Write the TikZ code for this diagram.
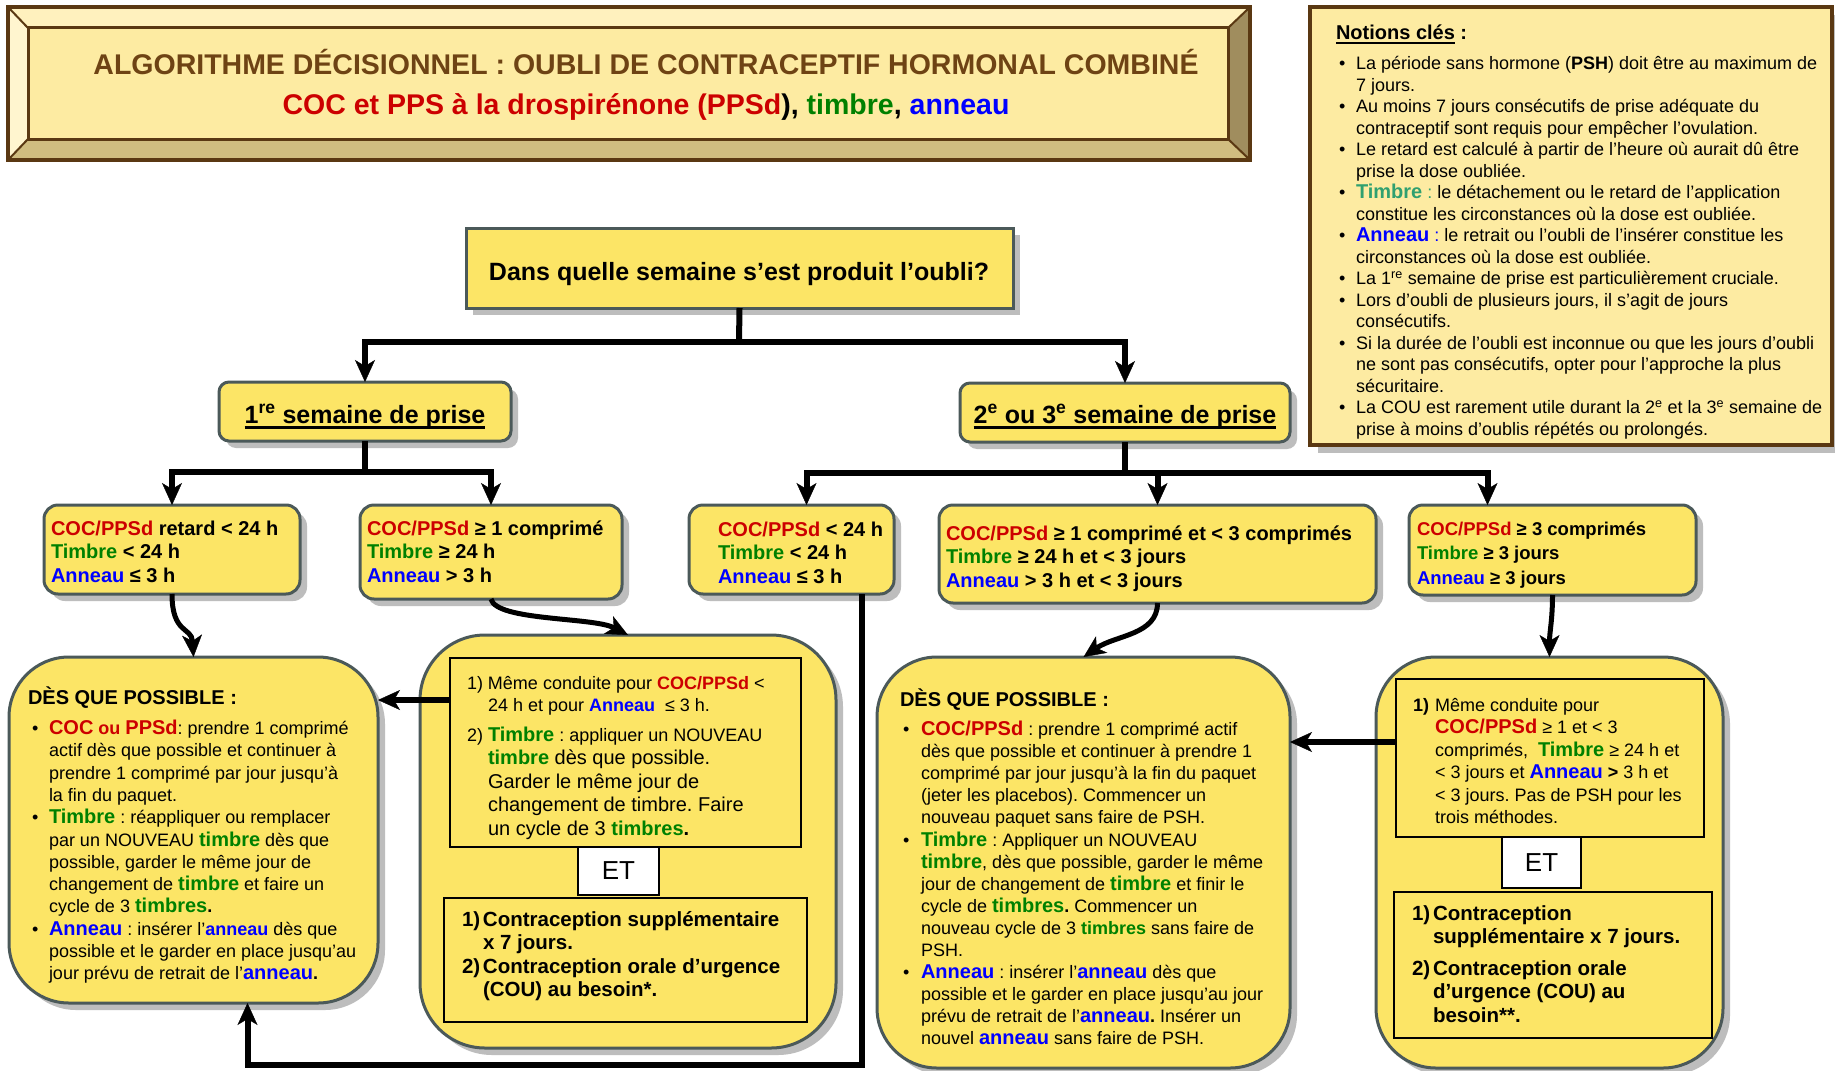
\documentclass[tikz,border=0pt]{standalone}
\usepackage{fontspec}
\setmainfont{Liberation Sans}
\usetikzlibrary{arrows.meta,shadows}
\frenchspacing

\definecolor{cred}{HTML}{CC0000}
\definecolor{cgreen}{HTML}{008000}
\definecolor{cblue}{HTML}{0000FF}
\definecolor{cteal}{HTML}{30A070}
\definecolor{boxfill}{HTML}{FCE566}
\definecolor{boxline}{HTML}{4B5959}
\definecolor{shade}{HTML}{BDBDBD}
\definecolor{pale}{HTML}{FDEBA2}
\definecolor{brownline}{HTML}{5A3812}
\definecolor{titlebrown}{HTML}{6E4314}
\definecolor{bevtop}{HTML}{FFF1BE}
\definecolor{bevleft}{HTML}{FFF5CF}
\definecolor{bevbot}{HTML}{D0BD80}
\definecolor{bevright}{HTML}{A08D5E}

\newcommand\fsz[2]{\fontsize{#1}{#2}\selectfont}
\newcommand\kw[3]{{\fsz{#1}{22}\bfseries\color{#2}#3}}
\newcommand\kR[1]{\kw{20}{cred}{#1}}
\newcommand\kG[1]{\kw{20}{cgreen}{#1}}
\newcommand\kB[1]{\kw{20}{cblue}{#1}}
\newcommand\sR[1]{{\bfseries\color{cred}#1}}
\newcommand\sG[1]{{\bfseries\color{cgreen}#1}}
\newcommand\sB[1]{{\bfseries\color{cblue}#1}}
\newcommand\toprl[1]{\rule{0pt}{#1pt}}
\newlength\bw
\newcommand\bu{\makebox[\bw][l]{•}}
\newcommand\ind{\hspace*{\bw}}
\newcommand\nb[1]{\makebox[\bw][l]{#1}}
\newcommand\ulthick[1]{\setbox0=\hbox{#1}\rlap{\rule[-5.5pt]{\wd0}{2.8pt}}\box0\relax}
\newcommand\ulthin[1]{\setbox0=\hbox{#1}\rlap{\rule[-3.8pt]{\wd0}{1.6pt}}\box0\relax}

\begin{document}
\begin{tikzpicture}[x=1pt,y=-1pt,
  every node/.style={inner sep=0pt, outer sep=0pt},
  shad/.style={general shadow={fill=shade, shadow xshift=7pt, shadow yshift=-7pt}},
  rbox/.style={draw=boxline, line width=3pt, fill=boxfill, rounded corners=#1, shad, anchor=north west},
  rbox/.default=12pt,
  inbox/.style={draw=black, line width=1.8pt, fill=boxfill, anchor=north west},
  etbox/.style={draw=black, line width=1.5pt, fill=white, anchor=north west, font=\fsz{26}{30}},
  txt/.style={anchor=north west, align=left},
  tree/.style={line width=6pt},
  curvy/.style={line width=5pt},
  arr/.style={-{Stealth[length=22pt,width=20pt,inset=6pt,line width=0.4pt]}},
]
\useasboundingbox (0,0) rectangle (1835,1070);
\fill[white] (0,0) rectangle (1835,1070);

% ---------- Title frame ----------
\fill[bevtop] (8,7) -- (1250,7) -- (1228,28) -- (28,28) -- cycle;
\fill[bevleft] (8,7) -- (28,28) -- (28,139) -- (8,160) -- cycle;
\fill[bevbot] (8,160) -- (28,139) -- (1228,139) -- (1250,160) -- cycle;
\fill[bevright] (1250,7) -- (1250,160) -- (1228,139) -- (1228,28) -- cycle;
\fill[pale] (28,28) rectangle (1228,139);
\draw[brownline, line width=3.5pt] (8,7) rectangle (1250,160);
\draw[brownline, line width=3pt] (28,28) rectangle (1228,139);
\draw[brownline, line width=2pt] (8,7) -- (28,28) (1250,7) -- (1228,28) (8,160) -- (28,139) (1250,160) -- (1228,139);
\node[anchor=base, font=\fsz{28.5}{32}\bfseries, text=titlebrown] (title1) at (646,75)
  {ALGORITHME DÉCISIONNEL : OUBLI DE CONTRACEPTIF HORMONAL COMBINÉ};
\node[anchor=base, font=\fsz{28.5}{32}\bfseries] (title2) at (646,114)
  {{\color{cred}COC et PPS à la drospirénone (PPSd}), {\color{cgreen}timbre}, {\color{cblue}anneau}};

% ---------- Notions clés ----------
\node[draw=brownline, line width=4pt, fill=pale, anchor=north west, minimum width=522pt, minimum height=438pt,
  general shadow={fill=shade, shadow xshift=8pt, shadow yshift=-8pt}] (notions) at (1310,7) {};
\node[anchor=base west, font=\fsz{20}{24}\bfseries] (notions-title) at (1336,40) {\ulthin{Notions clés}\ :};
\node[txt, font={\fsz{18}{21.5}\setlength\bw{17pt}}] (notions-text) at (1339,49.8) {%
\toprl{20}\bu La période sans hormone (\textbf{PSH}) doit être au maximum de\\
\ind 7 jours.\\
\bu Au moins 7 jours consécutifs de prise adéquate du\\
\ind contraceptif sont requis pour empêcher l’ovulation.\\
\bu Le retard est calculé à partir de l’heure où aurait dû être\\
\ind prise la dose oubliée.\\
\bu {\fsz{20}{22}\bfseries\color{cteal}Timbre}{\color{cteal}\ :} le détachement ou le retard de l’application\\
\ind constitue les circonstances où la dose est oubliée.\\
\bu \kB{Anneau}{\color{cblue}\ :} le retrait ou l’oubli de l’insérer constitue les\\
\ind circonstances où la dose est oubliée.\\
\bu La 1\textsuperscript{re} semaine de prise est particulièrement cruciale.\\
\bu Lors d’oubli de plusieurs jours, il s’agit de jours\\
\ind consécutifs.\\
\bu Si la durée de l’oubli est inconnue ou que les jours d’oubli\\
\ind ne sont pas consécutifs, opter pour l’approche la plus\\
\ind sécuritaire.\\
\bu La COU est rarement utile durant la 2\textsuperscript{e} et la 3\textsuperscript{e} semaine de\\
\ind prise à moins d’oublis répétés ou prolongés.};

% ---------- Tree boxes ----------
\node[draw=boxline, line width=3pt, fill=boxfill, shad, anchor=north west, minimum width=547pt, minimum height=80pt] (root) at (466,228) {};
\node[anchor=base, font=\fsz{25}{30}\bfseries] (root-text) at (739,280) {Dans quelle semaine s’est produit l’oubli?};

\node[rbox=10pt, minimum width=292pt, minimum height=59pt] (w1) at (219,382) {};
\node[anchor=base, font=\fsz{25}{30}\bfseries] (w1-text) at (365,423) {\ulthick{1\textsuperscript{re} semaine de prise}};
\node[rbox=10pt, minimum width=330pt, minimum height=59pt] (w2) at (960,383) {};
\node[anchor=base, font=\fsz{25}{30}\bfseries] (w2-text) at (1125,423) {\ulthick{2\textsuperscript{e} ou 3\textsuperscript{e} semaine de prise}};

\node[rbox=14pt, minimum width=256pt, minimum height=89pt] (b1) at (44,505) {};
\node[rbox=14pt, minimum width=262pt, minimum height=94pt] (b2) at (360,505) {};
\node[rbox=14pt, minimum width=205pt, minimum height=89pt] (b3) at (689,505) {};
\node[rbox=14pt, minimum width=437pt, minimum height=98pt] (b4) at (939,505) {};
\node[rbox=14pt, minimum width=287pt, minimum height=90pt] (b5) at (1409,505) {};

\node[txt, font=\fsz{20}{23.5}\bfseries] (b1-text) at (51,515) {%
\toprl{20}\sR{COC/PPSd} retard < 24 h\\ \sG{Timbre} < 24 h\\ \sB{Anneau} ≤ 3 h};
\node[txt, font=\fsz{20}{23.5}\bfseries] (b2-text) at (367,515) {%
\toprl{20}\sR{COC/PPSd} ≥ 1 comprimé\\ \sG{Timbre} ≥ 24 h\\ \sB{Anneau} > 3 h};
\node[txt, font=\fsz{20}{23.5}\bfseries] (b3-text) at (718,516) {%
\toprl{20}\sR{COC/PPSd} < 24 h\\ \sG{Timbre} < 24 h\\ \sB{Anneau} ≤ 3 h};
\node[txt, font=\fsz{20}{23.5}\bfseries] (b4-text) at (946,520) {%
\toprl{20}\sR{COC/PPSd} ≥ 1 comprimé et < 3 comprimés\\ \sG{Timbre} ≥ 24 h et < 3 jours\\ \sB{Anneau} > 3 h et < 3 jours};
\node[txt, font=\fsz{18.5}{24.5}\bfseries] (b5-text) at (1417,515) {%
\toprl{20}\sR{COC/PPSd} ≥ 3 comprimés\\ \sG{Timbre} ≥ 3 jours\\ \sB{Anneau} ≥ 3 jours};

% ---------- Big boxes ----------
\node[rbox=60pt, minimum width=369pt, minimum height=346pt] (d1) at (9,657) {};
\node[rbox=65pt, minimum width=416pt, minimum height=413pt] (c1) at (420,635) {};
\node[rbox=60pt, minimum width=413pt, minimum height=411pt] (d2) at (877,657) {};
\node[rbox=60pt, minimum width=347pt, minimum height=411pt] (c2) at (1376,657) {};

\node[inbox, minimum width=351pt, minimum height=189pt] (c1in1) at (450,658) {};
\node[etbox, minimum width=81pt, minimum height=48pt] (c1et) at (578,847) {ET};
\node[inbox, minimum width=363pt, minimum height=124pt] (c1in2) at (444,898) {};
\node[inbox, minimum width=308pt, minimum height=158pt] (c2in1) at (1396,679) {};
\node[etbox, minimum width=79pt, minimum height=51pt] (c2et) at (1502,837) {ET};
\node[inbox, minimum width=318pt, minimum height=146pt] (c2in2) at (1394,892) {};

% D1 text
\node[anchor=base west, font=\fsz{20}{24}\bfseries] (d1-head) at (28,704) {DÈS QUE POSSIBLE :};
\node[txt, font={\fsz{18}{22.3}\setlength\bw{17pt}}] (d1-text) at (32,714.5) {%
\toprl{20}\bu\kR{COC} \sR{ou} \kR{PPSd}: prendre 1 comprimé\\
\ind actif dès que possible et continuer à\\
\ind prendre 1 comprimé par jour jusqu’à\\
\ind la fin du paquet.\\
\bu\kG{Timbre} : réappliquer ou remplacer\\
\ind par un NOUVEAU \kG{timbre} dès que\\
\ind possible, garder le même jour de\\
\ind changement de \kG{timbre} et faire un\\
\ind cycle de 3 \kG{timbres}\textbf{.}\\
\bu\kB{Anneau} : insérer l’\sB{anneau} dès que\\
\ind possible et le garder en place jusqu’au\\
\ind jour prévu de retrait de l’\kB{anneau}\textbf{.}};

% C1 text
\node[txt, font={\fsz{18}{22}\setlength\bw{21pt}}] (c1-t1) at (467,669.5) {%
\toprl{20}\nb{1)}Même conduite pour \sR{COC/PPSd} <\\
\ind 24 h et pour \sB{Anneau}\ \ ≤ 3 h.};
\node[txt, font={\fsz{20}{23.4}\setlength\bw{21pt}}] (c1-t2) at (467,721.5) {%
\toprl{20}\nb{\fsz{18}{22}2)}\kG{Timbre}{\fsz{18}{22} : appliquer un NOUVEAU}\\
\ind \kG{timbre} dès que possible.\\
\ind Garder le même jour de\\
\ind changement de timbre. Faire\\
\ind un cycle de 3 \kG{timbres}\textbf{.}};
\node[txt, font={\fsz{20.5}{23.4}\bfseries\setlength\bw{21pt}}] (c1-t3) at (462,906.4) {%
\toprl{20}\nb{1)}Contraception supplémentaire\\
\ind x 7 jours.\\
\nb{2)}Contraception orale d’urgence\\
\ind (COU) au besoin*.};

% D2 text
\node[anchor=base west, font=\fsz{20}{24}\bfseries] (d2-head) at (900,706) {DÈS QUE POSSIBLE :};
\node[txt, font={\fsz{18}{22.1}\setlength\bw{18pt}}] (d2-text) at (903,715.5) {%
\toprl{20}\bu\kR{COC/PPSd} : prendre 1 comprimé actif\\
\ind dès que possible et continuer à prendre 1\\
\ind comprimé par jour jusqu’à la fin du paquet\\
\ind (jeter les placebos). Commencer un\\
\ind nouveau paquet sans faire de PSH.\\
\bu\kG{Timbre} : Appliquer un NOUVEAU\\
\ind \kG{timbre}, dès que possible, garder le même\\
\ind jour de changement de \kG{timbre} et finir le\\
\ind cycle de \kG{timbres}\textbf{.} Commencer un\\
\ind nouveau cycle de 3 \sG{timbres} sans faire de\\
\ind PSH.\\
\bu\kB{Anneau} : insérer l’\kB{anneau} dès que\\
\ind possible et le garder en place jusqu’au jour\\
\ind prévu de retrait de l’\kB{anneau}\textbf{.} Insérer un\\
\ind nouvel \kB{anneau} sans faire de PSH.};

% C2 text
\node[txt, font={\fsz{18}{22.4}\setlength\bw{22pt}}] (c2-t1) at (1413,691.5) {%
\toprl{20}\nb{\textbf{1)}}Même conduite pour\\
\ind \kR{COC/PPSd} ≥ 1 et < 3\\
\ind comprimés,\ \ \kG{Timbre} ≥ 24 h et\\
\ind < 3 jours et \kB{Anneau} \textbf{>} 3 h et\\
\ind < 3 jours. Pas de PSH pour les\\
\ind trois méthodes.};
\node[txt, font={\fsz{20.5}{23}\bfseries\setlength\bw{21pt}}] (c2-t2) at (1412,900.4) {%
\toprl{20}\nb{1)}Contraception\\
\ind supplémentaire x 7 jours.};
\node[txt, font={\fsz{20.5}{23.5}\bfseries\setlength\bw{21pt}}] (c2-t3) at (1412,955.4) {%
\toprl{20}\nb{2)}Contraception orale\\
\ind d’urgence (COU) au\\
\ind besoin**.};

% ---------- Connectors ----------
\coordinate (h1) at (739,342);
\coordinate (h2) at (365,472);
\coordinate (h3) at (1125,473);
\coordinate (lowy) at (0,1065);
\draw[tree] (root.south) -- (h1);
\draw[tree,arr] (h1) -| (w1.north);
\draw[tree,arr] (h1) -| (w2.north);
\draw[tree] (w1.south) -- (h2);
\draw[tree,arr] (h2) -| (b1.north);
\draw[tree,arr] (h2) -| (b2.north);
\draw[tree] (w2.south) -- (h3);
\draw[tree,arr] (h3) -| ([xshift=15pt]b3.north);
\draw[tree,arr] (h3) -| (b4.north);
\draw[tree,arr] (h3) -| ([xshift=-65pt]b5.north);

\coordinate (b3out) at ([xshift=70.5pt]b3.south);
\coordinate (d1in) at ([xshift=54pt]d1.south);
\draw[tree,arr] (b3out) -- (b3out |- lowy) -| (d1in);

\coordinate (c1out) at ([yshift=52.5pt]c1in1.west);
\draw[tree,arr] (c1out) -- (c1out -| d1.east);
\coordinate (c2out) at ([yshift=16pt]c2in1.west);
\draw[tree,arr] (c2out) -- (c2out -| d2.east);

\draw[curvy,arr] (b1.south) .. controls +(0,40) and +(-2,-30) .. (d1.north);
\draw[curvy,arr] (b2.south) .. controls +(5,22) and +(-35,-18) .. (c1.north);
\draw[curvy,arr] (b4.south) .. controls +(0,32) and +(32,-22) .. (d2.north);
\draw[curvy,arr] (b5.south) .. controls +(0,25) and +(0,-25) .. (c2.north);
\end{tikzpicture}
\end{document}
